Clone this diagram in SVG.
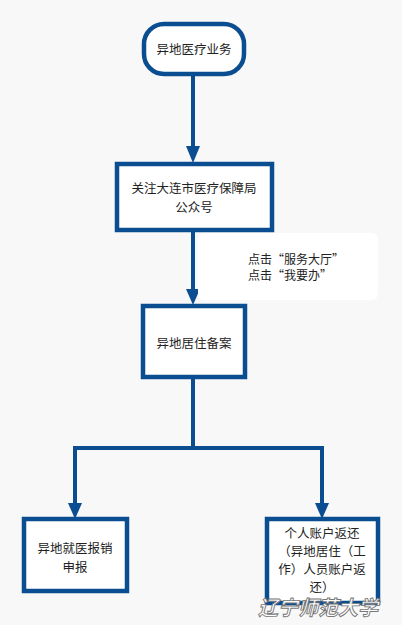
<svg xmlns="http://www.w3.org/2000/svg" width="402" height="625" viewBox="0 0 402 625">
<style>
.box{fill:#ffffff;stroke:#0b4d91;stroke-width:4.5}
.ln{fill:none;stroke:#0b4d91;stroke-width:4}
.t{font-family:"Noto Sans CJK SC","Microsoft YaHei",sans-serif;font-size:12.5px;fill:#222;text-anchor:middle}
.n{font-family:"Noto Sans CJK SC",sans-serif;font-size:12px;fill:#222}
.wm{font-family:"Noto Sans CJK SC",sans-serif;font-size:20px;font-style:italic;font-weight:bold;fill:#ffffff;stroke:#777;stroke-width:0.9}
</style>
<rect width="402" height="625" fill="#f8f8f8"/>
<g id="connectors">
<line class="ln" x1="193" y1="75" x2="193" y2="150"/>
<line class="ln" x1="193" y1="232" x2="193" y2="292"/>
<polyline class="ln" points="193,377 193,448 75,448 75,506"/>
<polyline class="ln" points="193,448 322,448 322,506"/>
<path d="M186,146 L200,146 L193,163 Z" fill="#0b4d91"/>
<path d="M186,289 L200,289 L193,305 Z" fill="#0b4d91"/>
<path d="M68,503 L82,503 L75,519 Z" fill="#0b4d91"/>
<path d="M315,503 L329,503 L322,519 Z" fill="#0b4d91"/>
</g>
<g id="note">
<rect x="198" y="233" width="180" height="67" rx="6" fill="#ffffff"/>
<text class="n" x="248" y="264">点击“服务大厅”</text>
<text class="n" x="248" y="280">点击“我要办”</text>
</g>
<g id="start">
<rect class="box" x="144" y="24" width="100" height="50" rx="20"/>
<text class="t" x="194" y="54">异地医疗业务</text>
</g>
<g id="follow">
<rect class="box" x="117" y="164" width="155" height="66"/>
<text class="t" x="194" y="193">关注大连市医疗保障局</text>
<text class="t" x="194" y="212">公众号</text>
</g>
<g id="record">
<rect class="box" x="143" y="306" width="102" height="71"/>
<text class="t" x="194" y="348">异地居住备案</text>
</g>
<g id="claim">
<rect class="box" x="24" y="519" width="103" height="72"/>
<text class="t" x="75" y="553">异地就医报销</text>
<text class="t" x="75" y="572">申报</text>
</g>
<g id="refund">
<rect class="box" x="267" y="519" width="111" height="84"/>
<text class="t" x="322" y="538">个人账户返还</text>
<text class="t" x="322" y="556">（异地居住（工</text>
<text class="t" x="322" y="574">作）人员账户返</text>
<text class="t" x="322" y="592">还）</text>
</g>
<text class="wm" x="258" y="615">辽宁师范大学</text>
</svg>
